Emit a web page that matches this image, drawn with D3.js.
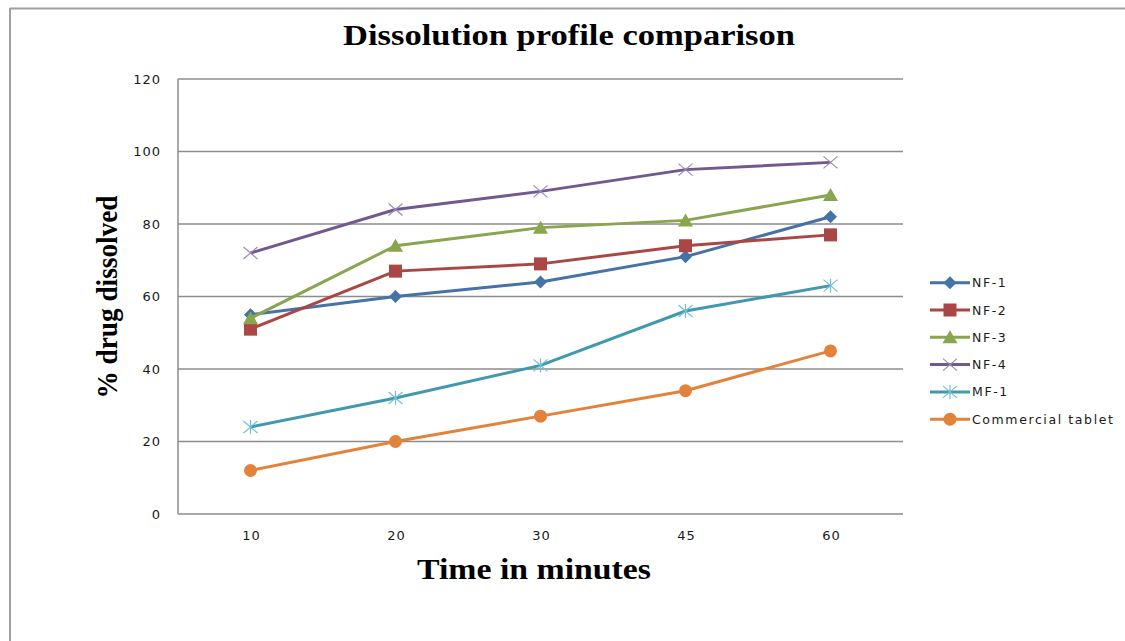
<!DOCTYPE html>
<html>
<head>
<meta charset="utf-8">
<script src="https://cdn.jsdelivr.net/npm/d3@7/dist/d3.min.js"></script>
<style>
  html, body { margin: 0; padding: 0; background: #fff; }
  svg { display: block; }
  .tick-label { font-family: "DejaVu Sans", Verdana, sans-serif; font-size: 13px; fill: #1a1a1a; letter-spacing: 1px; }
  .legend-label { font-family: "DejaVu Sans", Verdana, sans-serif; font-size: 12.5px; fill: #1a1a1a; letter-spacing: 1.6px; }
  .axis-title { font-family: "Liberation Serif", "Times New Roman", serif; font-weight: bold; font-size: 29px; fill: #000; }
</style>
</head>
<body>
<svg id="chart" width="1125" height="641"></svg>
<script>
// Time points (minutes) and % drug dissolved per formulation
const categories = ["10", "20", "30", "45", "60"];
const seriesNames = ["NF-1", "NF-2", "NF-3", "NF-4", "MF-1", "Commercial tablet"];
const nf1 = [55, 60, 64, 71, 82];
const nf2 = [51, 67, 69, 74, 77];
const nf3 = [54, 74, 79, 81, 88];
const nf4 = [72, 84, 89, 95, 97];
const mf1 = [24, 32, 41, 56, 63];
const commercial = [12, 20, 27, 34, 45];
const yTicks = [0, 20, 40, 60, 80, 100, 120];

const colors = ["#4572A7", "#AA4643", "#89A54E", "#71588F", "#4198AF", "#E3823B"];
const markerColors = ["#4572A7", "#AA4643", "#89A54E", "#9C8AB8", "#6FC0D6", "#E3823B"];
const markers = ["diamond", "square", "triangle", "x", "asterisk", "circle"];

const series = [nf1, nf2, nf3, nf4, mf1, commercial].map((values, i) => ({
  name: seriesNames[i], values, color: colors[i], mcolor: markerColors[i], marker: markers[i]
}));

const svg = d3.select("#chart");

// Outer frame (top and left edges)
svg.append("line").attr("x1", 10).attr("x2", 1125).attr("y1", 8.5).attr("y2", 8.5)
  .attr("stroke", "#a0a0a0").attr("stroke-width", 2);
svg.append("line").attr("x1", 10).attr("x2", 10).attr("y1", 8).attr("y2", 641)
  .attr("stroke", "#a0a0a0").attr("stroke-width", 2);

const plot = { left: 178, right: 903, top: 79, bottom: 514 };

const x = d3.scalePoint().domain(categories).range([plot.left, plot.right]).padding(0.5);
const y = d3.scaleLinear().domain([0, 120]).range([plot.bottom, plot.top]);

// Horizontal gridlines
svg.append("g").selectAll("line").data(yTicks.filter(d => d > 0)).join("line")
  .attr("x1", plot.left).attr("x2", plot.right)
  .attr("y1", d => y(d)).attr("y2", d => y(d))
  .attr("stroke", "#8c8c8c").attr("stroke-width", 1.5);

// Axis lines
svg.append("line").attr("x1", plot.left).attr("x2", plot.right)
  .attr("y1", y(0)).attr("y2", y(0)).attr("stroke", "#8c8c8c").attr("stroke-width", 1.5);
svg.append("line").attr("x1", plot.left).attr("x2", plot.left)
  .attr("y1", y(120)).attr("y2", y(0)).attr("stroke", "#8c8c8c").attr("stroke-width", 1.5);

// Y tick labels
svg.append("g").selectAll("text").data(yTicks).join("text")
  .attr("class", "tick-label")
  .attr("x", 161).attr("y", d => y(d) + 4.5)
  .attr("text-anchor", "end")
  .text(d => d);

// X tick labels
svg.append("g").selectAll("text").data(categories).join("text")
  .attr("class", "tick-label")
  .attr("x", d => x(d) + 1).attr("y", 539.5)
  .attr("text-anchor", "middle")
  .text(d => d);

// Titles
svg.append("text").attr("class", "axis-title")
  .attr("x", 569).attr("y", 45).attr("text-anchor", "middle")
  .attr("textLength", 452).attr("lengthAdjust", "spacingAndGlyphs")
  .text("Dissolution profile comparison");
svg.append("text").attr("class", "axis-title")
  .attr("x", 534).attr("y", 579).attr("text-anchor", "middle")
  .attr("textLength", 234).attr("lengthAdjust", "spacingAndGlyphs")
  .text("Time in minutes");
svg.append("text").attr("class", "axis-title")
  .attr("transform", "translate(117,297) rotate(-90)")
  .attr("text-anchor", "middle")
  .attr("textLength", 203).attr("lengthAdjust", "spacingAndGlyphs")
  .text("% drug dissolved");

// Marker drawing
function drawMarker(g, type, fill, stroke) {
  switch (type) {
    case "diamond":
      g.append("path").attr("d", "M0,-6.5L6.5,0L0,6.5L-6.5,0Z").attr("fill", fill);
      break;
    case "square":
      g.append("rect").attr("x", -6.5).attr("y", -6.5).attr("width", 13).attr("height", 13).attr("fill", fill);
      break;
    case "triangle":
      g.append("path").attr("d", "M0,-7L7.5,6L-7.5,6Z").attr("fill", fill);
      break;
    case "x":
      g.append("path").attr("d", "M-7,-6L7,6M-7,6L7,-6").attr("stroke", stroke).attr("stroke-width", 1.2).attr("fill", "none");
      break;
    case "asterisk":
      g.append("path").attr("d", "M-7,-6L7,6M-7,6L7,-6M0,-7L0,7").attr("stroke", stroke).attr("stroke-width", 1.2).attr("fill", "none");
      break;
    case "circle":
      g.append("circle").attr("r", 6.5).attr("fill", fill);
      break;
  }
}

const line = d3.line().x((d, i) => x(categories[i])).y(d => y(d));

series.forEach(s => {
  svg.append("path").datum(s.values)
    .attr("d", line)
    .attr("fill", "none")
    .attr("stroke", s.color)
    .attr("stroke-width", 3)
    .attr("stroke-linejoin", "round");
  s.values.forEach((v, i) => {
    const g = svg.append("g").attr("transform", `translate(${x(categories[i])},${y(v)})`);
    drawMarker(g, s.marker, s.color, s.mcolor);
  });
});

// Legend
const legend = svg.append("g");
series.forEach((s, i) => {
  const ly = 282.7 + i * 27.3;
  legend.append("line").attr("x1", 930).attr("x2", 970).attr("y1", ly).attr("y2", ly)
    .attr("stroke", s.color).attr("stroke-width", 3);
  const g = legend.append("g").attr("transform", `translate(950,${ly})`);
  drawMarker(g, s.marker, s.color, s.mcolor);
  legend.append("text").attr("class", "legend-label")
    .attr("x", 972).attr("y", ly + 4.5).text(s.name);
});
</script>
</body>
</html>
